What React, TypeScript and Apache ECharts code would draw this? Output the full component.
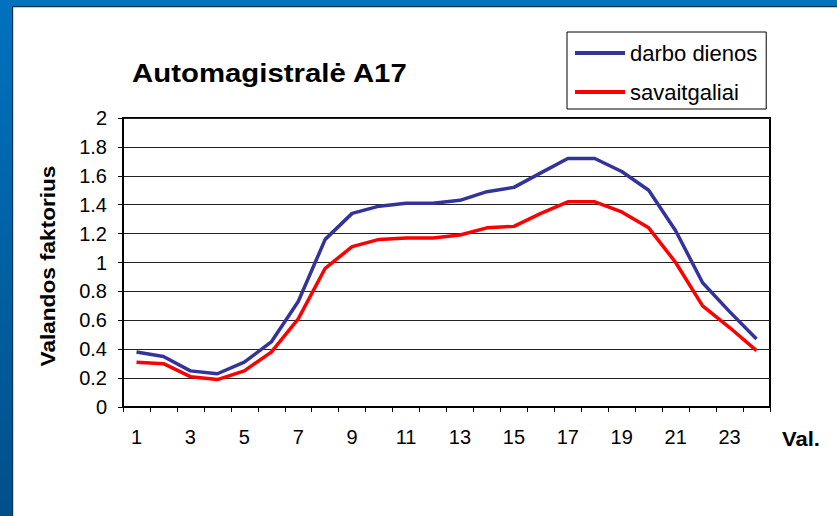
import React, { useEffect, useRef } from "react";
import * as echarts from "echarts";

const hours = ["1","2","3","4","5","6","7","8","9","10","11","12","13","14","15","16","17","18","19","20","21","22","23","24"];
const darboDienos = [0.38,0.35,0.25,0.23,0.31,0.45,0.73,1.16,1.34,1.39,1.41,1.41,1.43,1.49,1.52,1.62,1.72,1.72,1.63,1.5,1.22,0.86,0.66,0.47];
const savaitgaliai = [0.31,0.3,0.21,0.19,0.25,0.38,0.61,0.96,1.11,1.16,1.17,1.17,1.19,1.24,1.25,1.34,1.42,1.42,1.35,1.24,1.0,0.7,0.55,0.39];
const seriesNames = ["darbo dienos", "savaitgaliai"];
const titleText = "Automagistralė A17";
const yAxisName = "Valandos faktorius";
const xAxisName = "Val.";

const FONT = "'Liberation Sans', Arial, sans-serif";

export default function App() {
  const ref = useRef<HTMLDivElement>(null);
  useEffect(() => {
    if (!ref.current) return;
    const chart = echarts.init(ref.current, null, { renderer: "svg" });
    chart.setOption({
      animation: false,
      backgroundColor: "#ffffff",
      textStyle: { fontFamily: FONT },
      graphic: [
        {
          type: "rect",
          shape: { x: 0, y: 0, width: 13, height: 516 },
          style: {
            fill: new echarts.graphic.LinearGradient(0, 0, 0, 1, [
              { offset: 0, color: "#0072BE" },
              { offset: 1, color: "#00508A" },
            ]),
          },
        },
        { type: "rect", shape: { x: 0, y: 0, width: 837, height: 7 }, style: { fill: "#0072BE" } },
        { type: "rect", shape: { x: 12, y: 6, width: 825, height: 1.2 }, style: { fill: "#06304F" } },
        { type: "rect", shape: { x: 12, y: 6, width: 1.2, height: 510 }, style: { fill: "#06304F" } },
        {
          type: "text",
          x: 132,
          y: 73,
          scaleX: 1.13,
          style: { text: titleText, font: `bold 26px ${FONT}`, fill: "#000", align: "left", verticalAlign: "middle" },
        },
        {
          type: "text",
          x: 48,
          y: 266,
          rotation: Math.PI / 2,
          scaleX: 1.13,
          style: { text: yAxisName, font: `bold 20px ${FONT}`, fill: "#000", align: "center", verticalAlign: "middle" },
        },
        {
          type: "text",
          x: 782,
          y: 439,
          scaleX: 1.1,
          style: { text: xAxisName, font: `bold 20px ${FONT}`, fill: "#000", align: "left", verticalAlign: "middle" },
        },
      ],
      legend: {
        orient: "vertical",
        left: 567,
        top: 32,
        padding: [10, 9, 6, 8],
        itemWidth: 50,
        itemHeight: 4,
        itemGap: 17,
        icon: "rect",
        borderColor: "#000",
        borderWidth: 1,
        backgroundColor: "#fff",
        textStyle: { fontSize: 22, lineHeight: 22, color: "#000", fontFamily: FONT },
        data: seriesNames,
      },
      grid: {
        left: 123,
        right: 67,
        top: 118,
        bottom: 109,
        show: true,
        borderColor: "#000",
        borderWidth: 2,
        backgroundColor: "transparent",
      },
      xAxis: {
        type: "category",
        data: hours,
        boundaryGap: true,
        axisLine: { lineStyle: { color: "#000", width: 2 } },
        axisTick: { show: true, interval: 0, length: 5, lineStyle: { color: "#000" } },
        axisLabel: { interval: 1, fontSize: 20, color: "#000", margin: 20, fontFamily: FONT },
        splitLine: { show: false },
      },
      yAxis: {
        type: "value",
        min: 0,
        max: 2,
        interval: 0.2,
        axisLine: { show: true, lineStyle: { color: "#000", width: 2 } },
        axisTick: { show: true, length: 5, lineStyle: { color: "#000" } },
        axisLabel: { fontSize: 20, color: "#000", margin: 16, fontFamily: FONT },
        splitLine: { show: true, lineStyle: { color: "#222", width: 1 } },
      },
      series: [
        {
          name: seriesNames[0],
          type: "line",
          data: darboDienos,
          showSymbol: false,
          symbol: "none",
          lineStyle: { color: "#333399", width: 3.5 },
          itemStyle: { color: "#333399" },
        },
        {
          name: seriesNames[1],
          type: "line",
          data: savaitgaliai,
          showSymbol: false,
          symbol: "none",
          lineStyle: { color: "#FF0000", width: 3.5 },
          itemStyle: { color: "#FF0000" },
        },
      ],
    });
    return () => chart.dispose();
  }, []);
  return (
    <div
      ref={ref}
      style={{ position: "fixed", left: 0, top: 0, width: 837, height: 516 }}
    />
  );
}
